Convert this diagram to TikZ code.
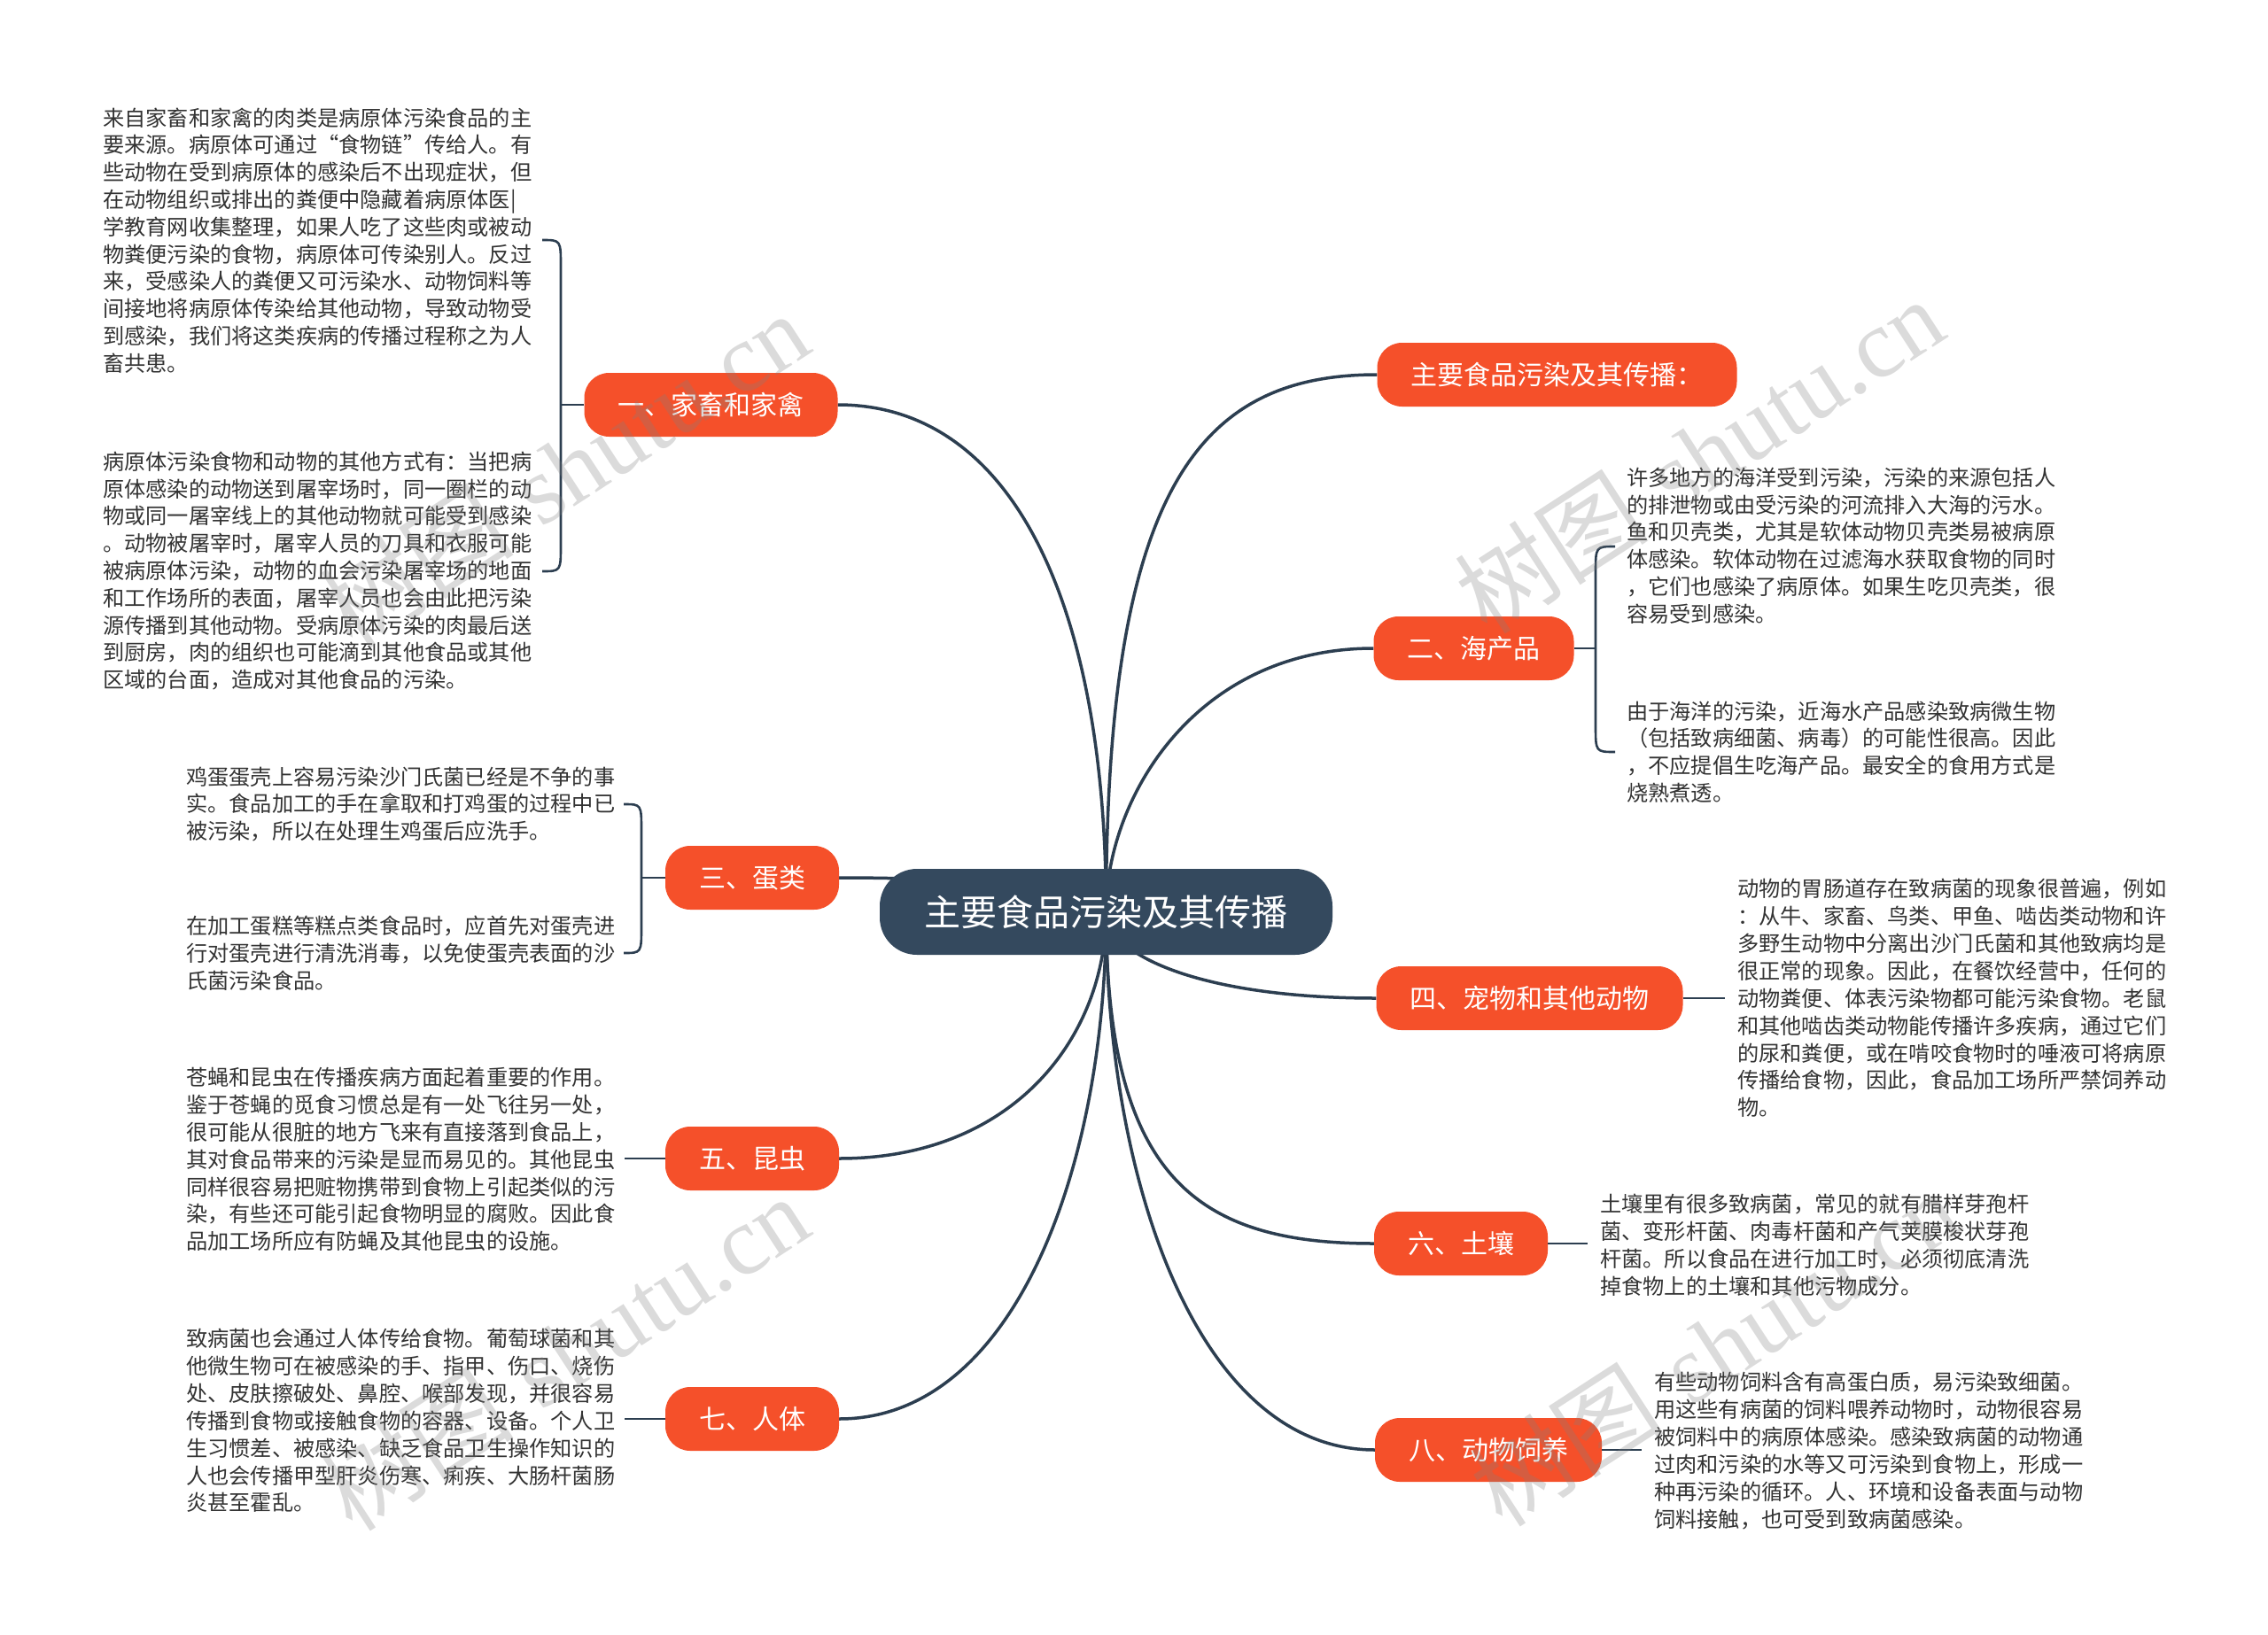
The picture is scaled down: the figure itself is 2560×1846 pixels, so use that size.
\documentclass[tikz,border=0pt]{standalone}
\usepackage{fontspec}
\newfontfamily\cjk{Noto Sans CJK SC}
\newfontfamily\wmserif{Liberation Serif}
\usetikzlibrary{calc}
\pgfdeclarelayer{background}
\pgfdeclarelayer{canvas}
\pgfsetlayers{canvas,background,main}
\definecolor{orng}{HTML}{F5502A}
\definecolor{rootc}{HTML}{34495E}
\definecolor{linec}{HTML}{2C3E50}
\definecolor{txt}{HTML}{333333}
\tikzset{
  branch/.style={fill=orng, text=white, rounded corners=28pt, minimum height=72pt, inner xsep=38pt, inner ysep=0pt, font=\cjk\fontsize{30}{36}\selectfont},
  rootnode/.style={fill=rootc, text=white, rounded corners=42pt, minimum height=97pt, minimum width=511pt, inner xsep=48pt, font=\cjk\fontsize{41}{48}\selectfont},
  leaf/.style={anchor=west, align=left, inner sep=0pt, text=txt},
  leafA/.style={leaf, font=\cjk\fontsize{24.2}{30.8}\selectfont},
  leafB/.style={leaf, font=\cjk\fontsize{24.2}{30.9}\selectfont},
  conn/.style={draw=linec, line width=3.5pt},
  brk/.style={draw=linec, line width=2.6pt},
  wm/.style={rotate=33, text=gray, opacity=0.28, font=\fontsize{110}{120}\selectfont},
}
\begin{document}
\begin{tikzpicture}[x=1pt,y=-1pt]
\useasboundingbox (0,0) rectangle (2560,1846);
\begin{pgfonlayer}{canvas}
\fill[white] (0,0) rectangle (2560,1846);
\end{pgfonlayer}

% root
\node[rootnode] (root) at (1248.5,1029.5) {主要食品污染及其传播};

% branches
\node[branch] (b0) at (1757.5,423) {主要食品污染及其传播：};
\node[branch] (b1) at (802.5,457) {一、家畜和家禽};
\node[branch] (b2) at (1663.5,732) {二、海产品};
\node[branch] (b3) at (849,991) {三、蛋类};
\node[branch] (b4) at (1726.5,1127) {四、宠物和其他动物};
\node[branch] (b5) at (849,1308) {五、昆虫};
\node[branch] (b6) at (1649,1404) {六、土壤};
\node[branch] (b7) at (849,1602) {七、人体};
\node[branch] (b8) at (1680,1637) {八、动物饲养};

% leaves
\node[leafA] (t1a) at (116,271.5) {来自家畜和家禽的肉类是病原体污染食品的主\\要来源。病原体可通过“食物链”传给人。有\\些动物在受到病原体的感染后不出现症状，但\\在动物组织或排出的粪便中隐藏着病原体医|\\学教育网收集整理，如果人吃了这些肉或被动\\物粪便污染的食物，病原体可传染别人。反过\\来，受感染人的粪便又可污染水、动物饲料等\\间接地将病原体传染给其他动物，导致动物受\\到感染，我们将这类疾病的传播过程称之为人\\畜共患。};
\node[leafA] (t1b) at (116,644.5) {病原体污染食物和动物的其他方式有：当把病\\原体感染的动物送到屠宰场时，同一圈栏的动\\物或同一屠宰线上的其他动物就可能受到感染\\。动物被屠宰时，屠宰人员的刀具和衣服可能\\被病原体污染，动物的血会污染屠宰场的地面\\和工作场所的表面，屠宰人员也会由此把污染\\源传播到其他动物。受病原体污染的肉最后送\\到厨房，肉的组织也可能滴到其他食品或其他\\区域的台面，造成对其他食品的污染。};
\node[leafB] (t3a) at (210,908) {鸡蛋蛋壳上容易污染沙门氏菌已经是不争的事\\实。食品加工的手在拿取和打鸡蛋的过程中已\\被污染，所以在处理生鸡蛋后应洗手。};
\node[leafB] (t3b) at (210,1076) {在加工蛋糕等糕点类食品时，应首先对蛋壳进\\行对蛋壳进行清洗消毒，以免使蛋壳表面的沙\\氏菌污染食品。};
\node[leafB] (t5) at (210,1309) {苍蝇和昆虫在传播疾病方面起着重要的作用。\\鉴于苍蝇的觅食习惯总是有一处飞往另一处，\\很可能从很脏的地方飞来有直接落到食品上，\\其对食品带来的污染是显而易见的。其他昆虫\\同样很容易把赃物携带到食物上引起类似的污\\染，有些还可能引起食物明显的腐败。因此食\\品加工场所应有防蝇及其他昆虫的设施。};
\node[leafB] (t7) at (210,1604) {致病菌也会通过人体传给食物。葡萄球菌和其\\他微生物可在被感染的手、指甲、伤口、烧伤\\处、皮肤擦破处、鼻腔、喉部发现，并很容易\\传播到食物或接触食物的容器、设备。个人卫\\生习惯差、被感染、缺乏食品卫生操作知识的\\人也会传播甲型肝炎伤寒、痢疾、大肠杆菌肠\\炎甚至霍乱。};
\node[leafA] (t2a) at (1836,616) {许多地方的海洋受到污染，污染的来源包括人\\的排泄物或由受污染的河流排入大海的污水。\\鱼和贝壳类，尤其是软体动物贝壳类易被病原\\体感染。软体动物在过滤海水获取食物的同时\\，它们也感染了病原体。如果生吃贝壳类，很\\容易受到感染。};
\node[leafA] (t2b) at (1836,849) {由于海洋的污染，近海水产品感染致病微生物\\（包括致病细菌、病毒）的可能性很高。因此\\，不应提倡生吃海产品。最安全的食用方式是\\烧熟煮透。};
\node[leafB] (t4) at (1961,1127) {动物的胃肠道存在致病菌的现象很普遍，例如\\：从牛、家畜、鸟类、甲鱼、啮齿类动物和许\\多野生动物中分离出沙门氏菌和其他致病均是\\很正常的现象。因此，在餐饮经营中，任何的\\动物粪便、体表污染物都可能污染食物。老鼠\\和其他啮齿类动物能传播许多疾病，通过它们\\的尿和粪便，或在啃咬食物时的唾液可将病原\\传播给食物，因此，食品加工场所严禁饲养动\\物。};
\node[leafB] (t6) at (1806,1406) {土壤里有很多致病菌，常见的就有腊样芽孢杆\\菌、变形杆菌、肉毒杆菌和产气荚膜梭状芽孢\\杆菌。所以食品在进行加工时，必须彻底清洗\\掉食物上的土壤和其他污物成分。};
\node[leafB] (t8) at (1867,1638) {有些动物饲料含有高蛋白质，易污染致细菌。\\用这些有病菌的饲料喂养动物时，动物很容易\\被饲料中的病原体感染。感染致病菌的动物通\\过肉和污染的水等又可污染到食物上，形成一\\种再污染的循环。人、环境和设备表面与动物\\饲料接触，也可受到致病菌感染。};

% bracket / end coordinates
\coordinate (k1) at (633,457);
\coordinate (p1a) at (612,271);
\coordinate (p1b) at (612,645);
\coordinate (k2) at (1801,732);
\coordinate (p2a) at (1823,617);
\coordinate (p2b) at (1823,849);
\coordinate (k3) at (724,991);
\coordinate (p3a) at (704,908);
\coordinate (p3b) at (704,1076);
\coordinate (e4) at (1947,1127);
\coordinate (e5) at (705,1308);
\coordinate (e6) at (1792,1404);
\coordinate (e7) at (705,1602);
\coordinate (e8) at (1853,1637);

\begin{pgfonlayer}{background}
\draw[conn] (root.center) .. controls +(0,-480) and +(-200,0) .. (b0.west);
\draw[conn] (root.center) .. controls +(0,-344) and +(199,0) .. (b1.east);
\draw[conn] (root.center) .. controls +(0,-130) and +(-200,0) .. (b2.west);
\draw[conn] (root.center) .. controls +(0,-20) and +(199,0) .. (b3.east);
\draw[conn] (root.center) .. controls +(0,48) and +(-200,0) .. (b4.west);
\draw[conn] (root.center) .. controls +(0,139) and +(199,0) .. (b5.east);
\draw[conn] (root.center) .. controls +(0,300) and +(-200,0) .. (b6.west);
\draw[conn] (root.center) .. controls +(0,286) and +(199,0) .. (b7.east);
\draw[conn] (root.center) .. controls +(0,303) and +(-200,0) .. (b8.west);
\end{pgfonlayer}

% stems and brackets
\draw[brk] (b1.west) -- (k1);
\draw[brk] (p1a) .. controls +(21,0) and +(0,-30) .. ($(k1|-p1a)+(0,30)$) -- ($(k1|-p1b)+(0,-30)$) .. controls +(0,30) and +(21,0) .. (p1b);
\draw[brk] (b2.east) -- (k2);
\draw[brk] (p2a) .. controls +(-22,0) and +(0,-30) .. ($(k2|-p2a)+(0,30)$) -- ($(k2|-p2b)+(0,-30)$) .. controls +(0,30) and +(-22,0) .. (p2b);
\draw[brk] (b3.west) -- (k3);
\draw[brk] (p3a) .. controls +(20,0) and +(0,-30) .. ($(k3|-p3a)+(0,30)$) -- ($(k3|-p3b)+(0,-30)$) .. controls +(0,30) and +(20,0) .. (p3b);
\draw[brk] (b4.east) -- (e4);
\draw[brk] (b5.west) -- (e5);
\draw[brk] (b6.east) -- (e6);
\draw[brk] (b7.west) -- (e7);
\draw[brk] (b8.east) -- (e8);

% watermarks
\node[wm] (w1) at (637,530) {{\cjk 树图} {\wmserif shutu.cn}};
\node[wm] (w2) at (1918,514) {{\cjk 树图} {\wmserif shutu.cn}};
\node[wm] (w3) at (637,1527) {{\cjk 树图} {\wmserif shutu.cn}};
\node[wm] (w4) at (1935,1522) {{\cjk 树图} {\wmserif shutu.cn}};
\end{tikzpicture}
\end{document}
